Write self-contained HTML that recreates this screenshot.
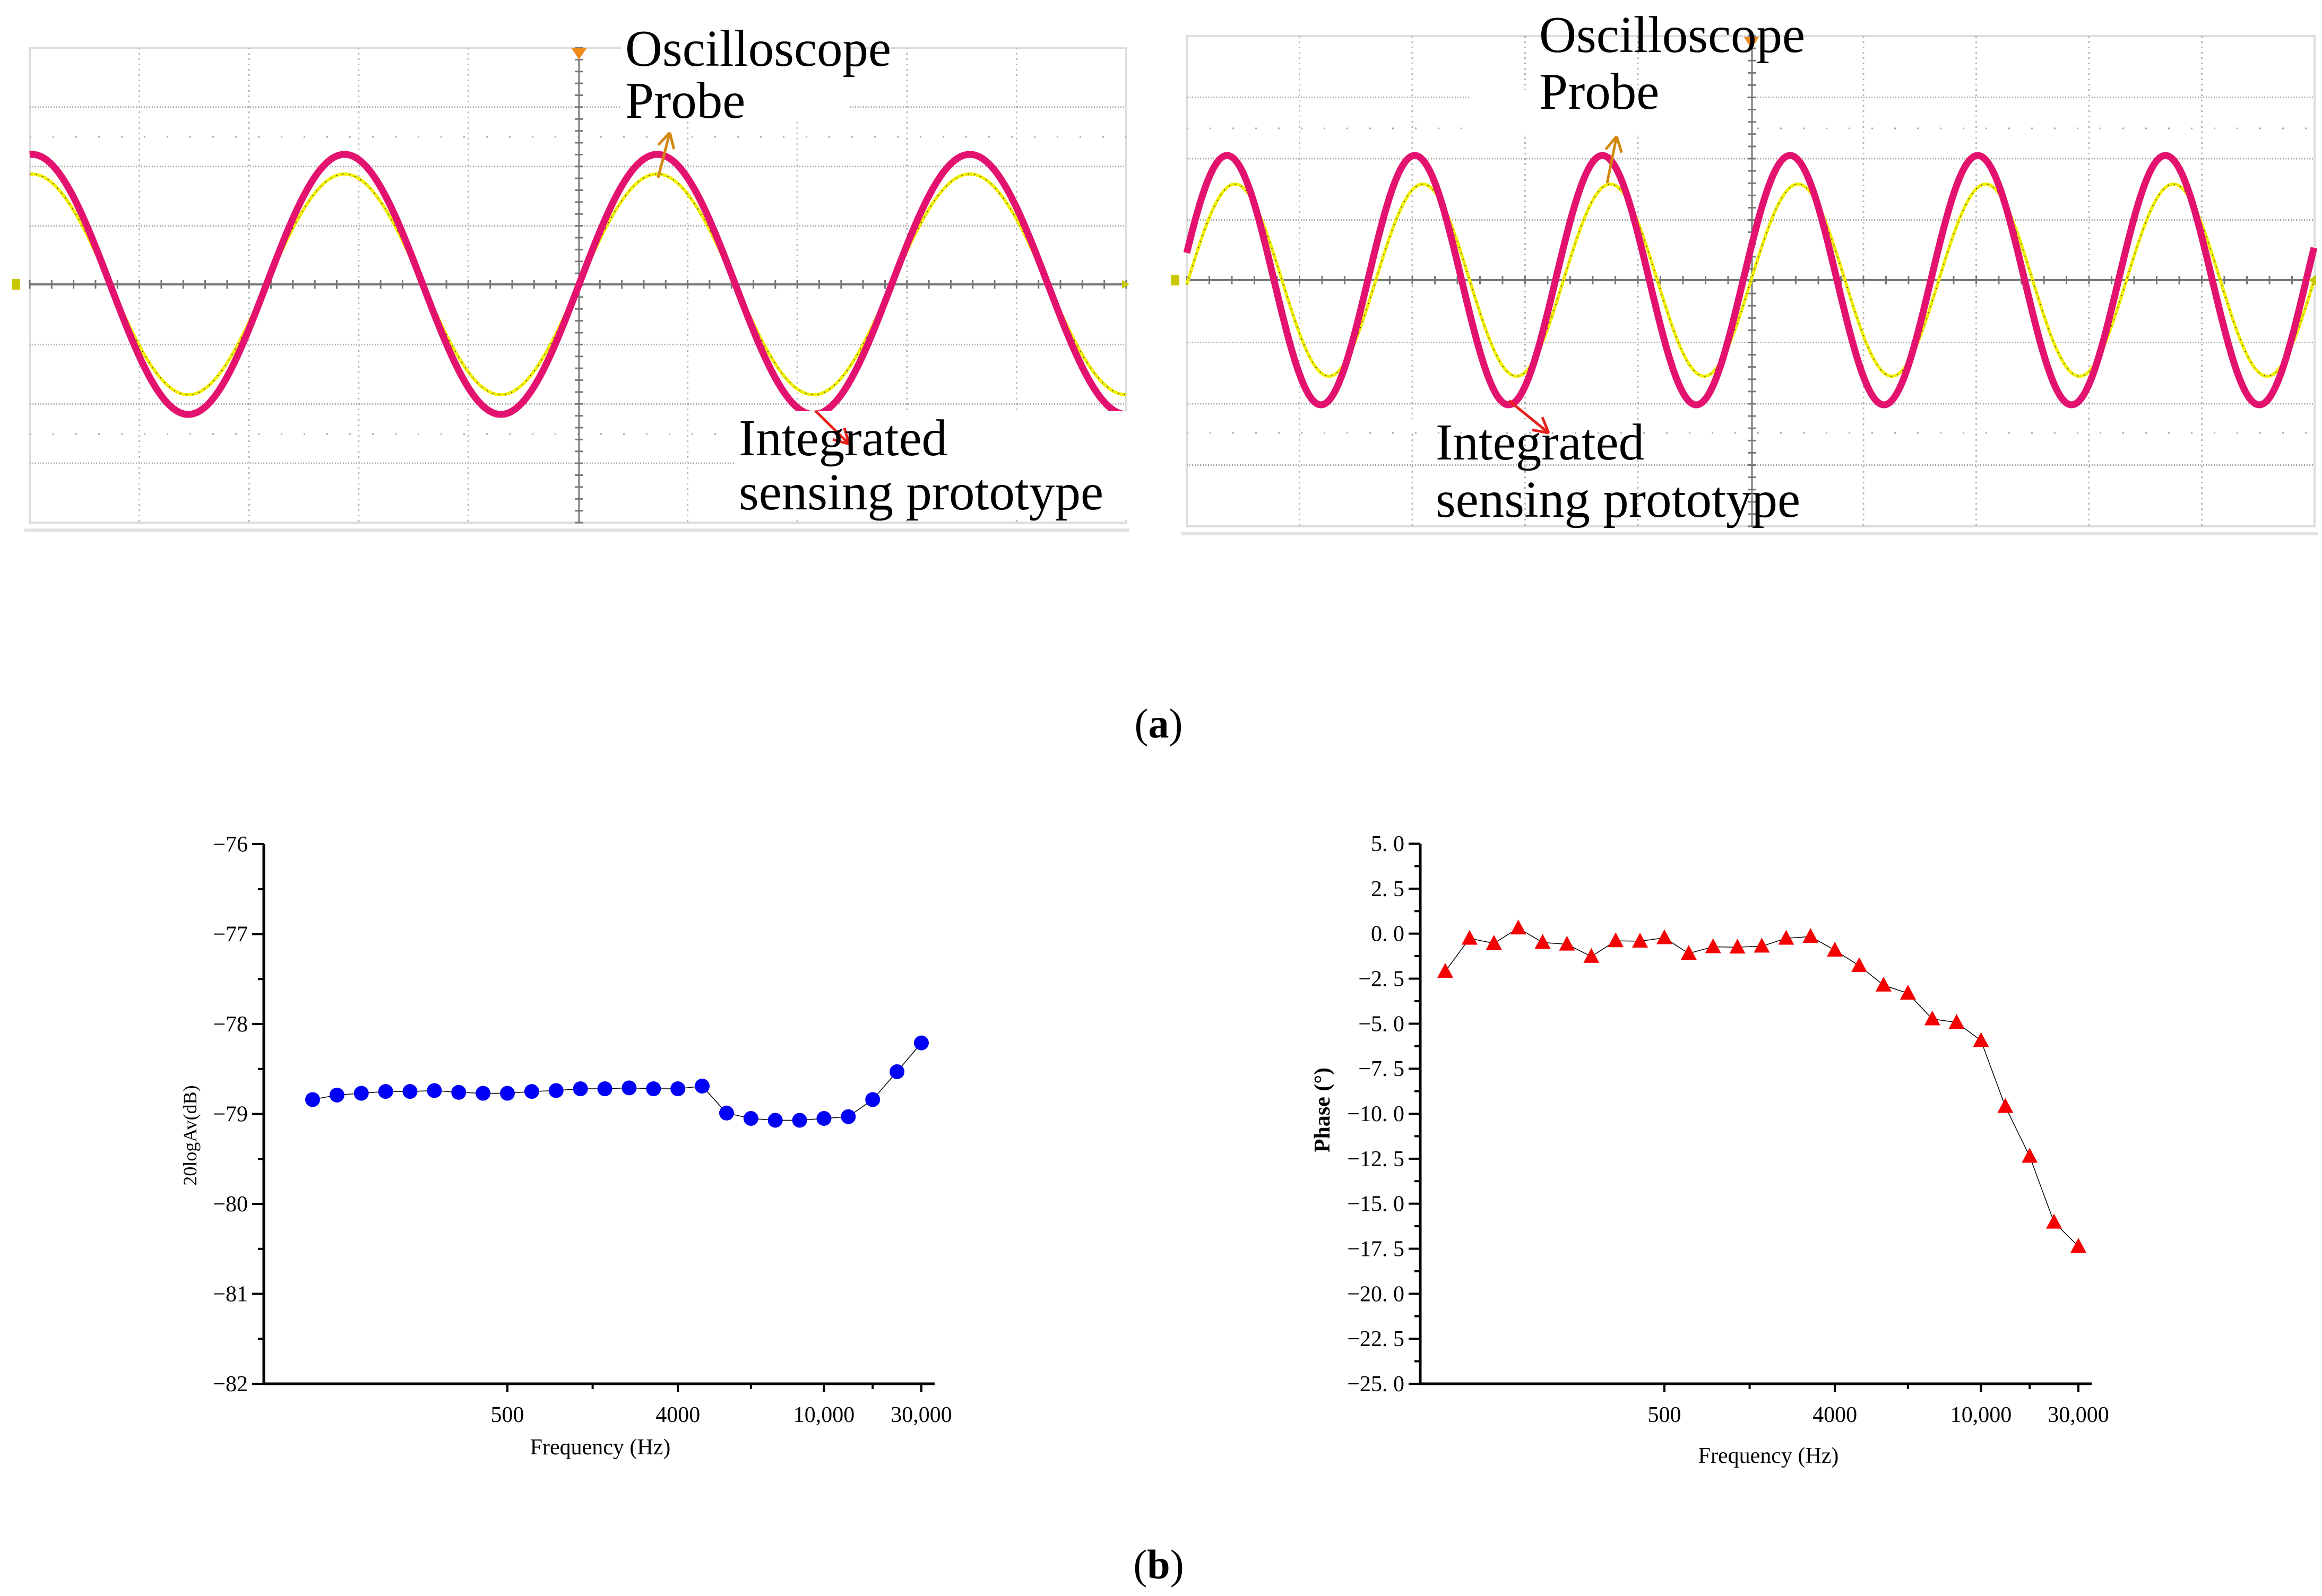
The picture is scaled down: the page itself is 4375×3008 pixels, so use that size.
<!DOCTYPE html>
<html><head><meta charset="utf-8">
<style>
html,body{margin:0;padding:0;background:#fff;}
svg{display:block;}
text{font-family:"Liberation Serif",serif;}
</style></head>
<body>
<svg id="fig" width="4375" height="3008" viewBox="0 0 4375 3008" xmlns="http://www.w3.org/2000/svg">
<rect x="0" y="0" width="4375" height="3008" fill="#fff"/>
<g id="scopeL"></g>
<g id="scopeR"></g>
<text x="2183" y="1390" font-size="78" text-anchor="middle">(<tspan font-weight="bold">a</tspan>)</text>
<g id="chart1"></g>
<g id="chart2"></g>
<text x="2183" y="2975" font-size="78" text-anchor="middle">(<tspan font-weight="bold">b</tspan>)</text>
</svg>
<script>
// ---- chart data ----
const gainValues = [-78.84,-78.79,-78.77,-78.75,-78.75,-78.74,-78.76,-78.77,-78.77,-78.75,-78.74,-78.72,-78.72,-78.71,-78.72,-78.72,-78.69,-78.99,-79.05,-79.07,-79.07,-79.05,-79.03,-78.84,-78.53,-78.21];
const phaseValues = [-2.1,-0.26,-0.54,0.31,-0.49,-0.59,-1.27,-0.40,-0.42,-0.23,-1.10,-0.73,-0.75,-0.70,-0.26,-0.16,-0.92,-1.78,-2.86,-3.31,-4.74,-4.93,-5.94,-9.60,-12.37,-16.03,-17.37];
const gainXTickLabels = ["500","4000","10,000","30,000"];
const gainXTickIndex = [8,15,21,25];
const gainXMinorIndex = [11.5,18,23];
const phaseXTickLabels = ["500","4000","10,000","30,000"];
const phaseXTickIndex = [9,16,22,26];
const phaseXMinorIndex = [12.5,19,24];
const gainYTicks = [-76,-77,-78,-79,-80,-81,-82];
const phaseYTicks = [5.0,2.5,0.0,-2.5,-5.0,-7.5,-10.0,-12.5,-15.0,-17.5,-20.0,-22.5,-25.0];

const NS="http://www.w3.org/2000/svg";
function mk(parent,tag,attrs){const e=document.createElementNS(NS,tag);for(const k in attrs)e.setAttribute(k,attrs[k]);parent.appendChild(e);return e;}

// ---- oscilloscope panels ----
function scope(g,o){
  const {x0,y0,x1,y1,cy,cx,nv,nh,dots}=o;
  const bg=mk(g,'rect',{x:x0,y:y0,width:x1-x0,height:y1-y0,fill:'#fff',stroke:'#ddd','stroke-width':4});
  
  
  mk(g,'line',{x1:x0-10,y1:y1+14,x2:x1+6,y2:y1+14,stroke:'#e2e2e2','stroke-width':6});
  const dx=(x1-x0)/nv, dy=(y1-y0)/nh;
  for(let i=1;i<nv;i++){const x=x0+i*dx;if(Math.abs(x-cx)<3)continue;
    mk(g,'line',{x1:x,y1:y0,x2:x,y2:y1,stroke:'#b5b5b5','stroke-width':3,'stroke-dasharray':'3 7'});}
  for(let i=1;i<nh;i++){const y=y0+i*dy;if(Math.abs(y-cy)<5)continue;
    mk(g,'line',{x1:x0,y1:y,x2:x1,y2:y,stroke:'#aaa','stroke-width':3,'stroke-dasharray':'2 3'});}
  dots.forEach(y=>mk(g,'line',{x1:x0,y1:y,x2:x1,y2:y,stroke:'#aaa','stroke-width':3,'stroke-dasharray':'3 40'}));
  mk(g,'line',{x1:x0,y1:cy,x2:x1,y2:cy,stroke:'#777','stroke-width':4});
  mk(g,'line',{x1:cx,y1:y0,x2:cx,y2:y1,stroke:'#777','stroke-width':3});
  for(let i=0;i<=nv*5;i++){const x=x0+i*dx/5;mk(g,'line',{x1:x,y1:cy-8,x2:x,y2:cy+8,stroke:'#777','stroke-width':3});}
  for(let i=0;i<=nh*5;i++){const y=y0+i*dy/5;mk(g,'line',{x1:cx-8,y1:y,x2:cx+8,y2:y,stroke:'#777','stroke-width':3});}
}
function wave(g,x0,x1,fn,color,w,name){
  let d='';for(let x=x0;x<=x1;x+=2){d+=(x===x0?'M':'L')+x+' '+fn(x).toFixed(1)+' ';}
  const p=mk(g,'path',{d:d,fill:'none',stroke:color,'stroke-width':w,'stroke-linejoin':'round'});
  
  
  return d;
}
function arrow(g,x1,y1,x2,y2,color,name){
  const a=mk(g,'g',{});
  
  
  mk(a,'line',{x1:x1,y1:y1,x2:x2,y2:y2,stroke:color,'stroke-width':5});
  const ang=Math.atan2(y2-y1,x2-x1),L=32;
  [0.5,-0.5].forEach(s=>mk(a,'line',{x1:x2,y1:y2,x2:x2-L*Math.cos(ang+s),y2:y2-L*Math.sin(ang+s),stroke:color,'stroke-width':5}));
}
function label(g,x,y,txt,name){
  const t=mk(g,'text',{x:x,y:y,'font-size':97,fill:'#000'});t.textContent=txt;
  
  
}
// left
(function(){
  const g=document.getElementById('scopeL');
  scope(g,{x0:56,y0:90,x1:2122,y1:985,cy:536,cx:1091,nv:10,nh:8,dots:[258,818]});
  const P=589;
  const dY=wave(g,56,2122,x=>536-208*Math.sin(2*Math.PI*(x-1091)/P),'#f2f000',6,'probe-waveform-left');
  mk(g,'path',{d:dY,fill:'none',stroke:'#444','stroke-width':2,'stroke-dasharray':'2 10'});
  wave(g,56,2122,x=>536-245*Math.sin(2*Math.PI*(x-1091)/P),'#e3126f',13,'sensor-waveform-left');
  mk(g,'polygon',{points:'1076,90 1106,90 1091,112',fill:'#f08a1c'});
  mk(g,'rect',{x:22,y:526,width:16,height:20,fill:'#c8c800'});
  mk(g,'polygon',{points:'2128,536 2114,528 2114,544',fill:'#c8c800'});
  mk(g,'rect',{x:1170,y:45,width:430,height:180,fill:'#fff'});
  label(g,1178,124,'Oscilloscope','probe-label-left');
  label(g,1178,222,'Probe','probe-label-left-2');
  arrow(g,1240,335,1262,250,'#d4870e','probe-arrow-left');
  mk(g,'rect',{x:1385,y:775,width:740,height:205,fill:'#fff'});
  arrow(g,1536,774,1600,837,'#e8201a','sensor-arrow-left');
  label(g,1392,858,'Integrated','sensor-label-left');
  label(g,1392,960,'sensing prototype','sensor-label-left-2');
})();
// right
(function(){
  const g=document.getElementById('scopeR');
  scope(g,{x0:2236,y0:68,x1:4361,y1:992,cy:528,cx:3301,nv:10,nh:8,dots:[242,816]});
  const P=353.6;
  const dY=wave(g,2236,4361,x=>528-181*Math.cos(2*Math.PI*(x-2327)/P),'#f2f000',6,'probe-waveform-right');
  mk(g,'path',{d:dY,fill:'none',stroke:'#444','stroke-width':2,'stroke-dasharray':'2 10'});
  wave(g,2236,4361,x=>528-235*Math.cos(2*Math.PI*(x-2312)/P),'#e3126f',13,'sensor-waveform-right');
  mk(g,'polygon',{points:'3286,70 3314,70 3300,92',fill:'#f08a1c'});
  mk(g,'rect',{x:2206,y:518,width:16,height:20,fill:'#c8c800'});
  mk(g,'polygon',{points:'4350,528 4364,518 4364,538',fill:'#c8c800'});
  mk(g,'rect',{x:2770,y:170,width:520,height:80,fill:'#fff'});
  label(g,2900,98,'Oscilloscope','probe-label-right');
  label(g,2900,205,'Probe','probe-label-right-2');
  arrow(g,3028,345,3046,257,'#d4870e','probe-arrow-right');
  mk(g,'rect',{x:2640,y:790,width:400,height:20,fill:'#fff'});
  arrow(g,2843,755,2918,816,'#e8201a','sensor-arrow-right');
  label(g,2705,866,'Integrated','sensor-label-right');
  label(g,2705,974,'sensing prototype','sensor-label-right-2');
})();

// ---- line charts ----
function chart(g,o){
  const {ax,top,bottom,xend,px0,px1,n,ymin,ymax,vals,yticks,fmt,xIdx,xLab,xMinor,ylabel,ylx,yly,ylBold,xlx,xly,marker,color}=o;
  const X=i=>px0+(px1-px0)*i/(n-1);
  const Y=v=>bottom-(v-ymin)/(ymax-ymin)*(bottom-top);
  const axes=mk(g,'path',{d:`M${ax} ${top} L${ax} ${bottom} L${xend} ${bottom}`,fill:'none',stroke:'#000','stroke-width':5});
  
  
  yticks.forEach(v=>{const y=Y(v);
    mk(g,'line',{x1:ax-22,y1:y,x2:ax,y2:y,stroke:'#000','stroke-width':4});
    const t=mk(g,'text',{x:ax-30,y:y+14,'font-size':42,'text-anchor':'end'});t.textContent=fmt(v);
    
    
  });
  for(let k=0;k<yticks.length-1;k++){const y=Y((yticks[k]+yticks[k+1])/2);
    mk(g,'line',{x1:ax-11,y1:y,x2:ax,y2:y,stroke:'#000','stroke-width':4});}
  xIdx.forEach((i,k)=>{const x=X(i);
    mk(g,'line',{x1:x,y1:bottom,x2:x,y2:bottom+16,stroke:'#000','stroke-width':4});
    const t=mk(g,'text',{x:x,y:bottom+72,'font-size':42,'text-anchor':'middle'});t.textContent=xLab[k];
    
    
  });
  xMinor.forEach(i=>mk(g,'line',{x1:X(i),y1:bottom,x2:X(i),y2:bottom+10,stroke:'#000','stroke-width':4}));
  const xl=mk(g,'text',{x:xlx,y:xly,'font-size':42,'text-anchor':'middle'});xl.textContent='Frequency (Hz)';
  
  
  const yl=mk(g,'text',{x:ylx,y:yly,'font-size':ylBold?42:36,'font-weight':ylBold?'bold':'normal','text-anchor':'middle',transform:`rotate(-90 ${ylx} ${yly})`});yl.textContent=ylabel;
  
  
  const pts=vals.map((v,i)=>X(i)+','+Y(v)).join(' ');
  const ln=mk(g,'polyline',{points:pts,fill:'none',stroke:'#000','stroke-width':1.5});
  
  
  vals.forEach((v,i)=>{const x=X(i),y=Y(v);let m;
    if(marker==='circle'){m=mk(g,'ellipse',{cx:x,cy:y,rx:14,ry:14,fill:color});}
    else{m=mk(g,'polygon',{points:`${x},${y-16} ${x-15},${y+12} ${x+15},${y+12}`,fill:color});}
    
    
  });
}
chart(document.getElementById('chart1'),{ax:497,top:1591,bottom:2608,xend:1761,px0:589,px1:1736,n:gainValues.length,ymin:-82,ymax:-76,vals:gainValues,yticks:gainYTicks,fmt:v=>'\u2212'+Math.abs(v),xIdx:gainXTickIndex,xLab:gainXTickLabels,xMinor:gainXMinorIndex,ylabel:'20logAv(dB)',ylx:370,yly:2140,ylBold:false,xlx:1131,xly:2741,marker:'circle',color:'#0000f5'});
chart(document.getElementById('chart2'),{ax:2676,top:1590,bottom:2608,xend:3941,px0:2723,px1:3916,n:phaseValues.length,ymin:-25,ymax:5,vals:phaseValues,yticks:phaseYTicks,fmt:v=>(v<0?'\u2212':'')+Math.abs(v).toFixed(1).replace('.','. '),xIdx:phaseXTickIndex,xLab:phaseXTickLabels,xMinor:phaseXMinorIndex,ylabel:'Phase (°)',ylx:2505,yly:2092,ylBold:true,xlx:3332,xly:2757,marker:'tri',color:'#f50000'});
</script>
</body></html>
